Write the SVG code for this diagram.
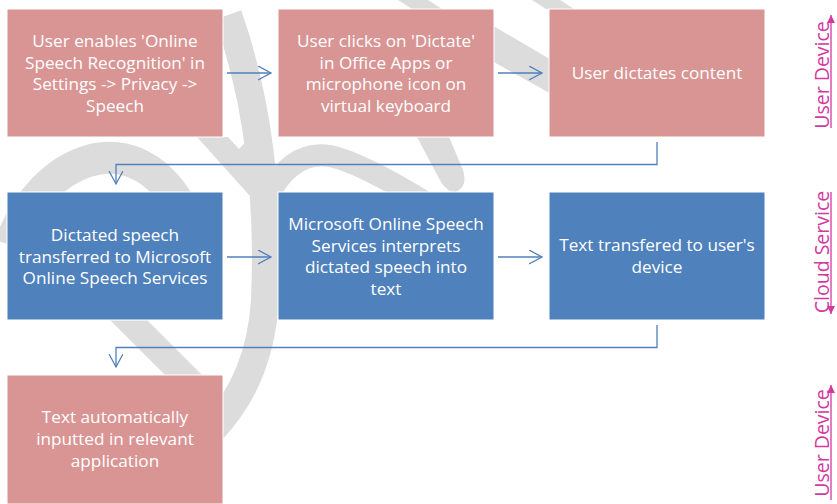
<svg xmlns="http://www.w3.org/2000/svg" width="837" height="504" viewBox="0 0 837 504">
<defs>
<style>
.wm{fill:#DCDCDC;stroke:none}
.wms{fill:none;stroke:#DCDCDC}
.pink{fill:#D99594;stroke:#FFFFFF;stroke-width:1}
.blue{fill:#4F81BD;stroke:#FFFFFF;stroke-width:1}
.t{font-family:"Open Sans","Liberation Sans",sans-serif;font-size:17.2px;fill:#FFFFFF;text-anchor:middle}
.conn{fill:none;stroke:#4F81BD;stroke-width:1.3}
.side{font-family:"Open Sans","Liberation Sans",sans-serif;font-size:19.5px;fill:#D23AA0;text-anchor:middle}
.sidel{stroke:#D23AA0;stroke-width:1.3;fill:none}
</style>
<marker id="ah" markerWidth="16" markerHeight="16" refX="13" refY="7" orient="auto" markerUnits="userSpaceOnUse">
<path d="M0,0 L13,7 L0,14" fill="none" stroke="#4F81BD" stroke-width="1.3"/>
</marker>
<marker id="sa" markerWidth="10" markerHeight="10" refX="8" refY="4" orient="auto" markerUnits="userSpaceOnUse">
<path d="M0,0 L8,4 L0,8 Z" fill="#D23AA0"/>
</marker>
</defs>
<rect width="837" height="504" fill="#FFFFFF"/>
<g id="watermark">
<path class="wms" stroke-width="32" d="M10,245 C40,160 130,120 180,205"/>
<path class="wms" stroke-width="28" d="M228,15 Q272,140 265,300 Q260,380 212,430"/>
<polygon class="wm" points="197,137 228,137 290,205 258,205"/>
<polygon class="wm" points="250,137 268,137 250,163 238,150"/>
<path class="wms" stroke-width="22" d="M268,196 Q292,150 330,156 Q360,162 430,205"/>
<path class="wm" d="M417,137 L449,137 L463,170 Q468,186 456,192 Q447,192 441,182 Z"/>
<polygon class="wm" points="110,320 147,320 203,376 166,376"/>
<polygon class="wm" points="490,24 555,62 555,96 490,60"/>
<polygon class="wm" points="398,0 428,0 442,9 412,9"/>
<polygon class="wm" points="532,0 560,0 574,9 546,9"/>
</g>
<g id="connectors">
<line class="conn" x1="227" y1="73" x2="271" y2="73" marker-end="url(#ah)"/>
<line class="conn" x1="498" y1="73" x2="542" y2="73" marker-end="url(#ah)"/>
<line class="conn" x1="227" y1="257" x2="271" y2="257" marker-end="url(#ah)"/>
<line class="conn" x1="498" y1="257" x2="542" y2="257" marker-end="url(#ah)"/>
<path class="conn" d="M657,142 V164.5 H116 V184" marker-end="url(#ah)"/>
<path class="conn" d="M657,325 V347.5 H116 V367" marker-end="url(#ah)"/>
</g>
<g id="n1">
<rect class="pink" x="7" y="9" width="216" height="128"/>
<text class="t"><tspan x="115" y="47">User enables 'Online</tspan><tspan x="115" y="68.7">Speech Recognition' in</tspan><tspan x="115" y="90.4">Settings -&gt; Privacy -&gt;</tspan><tspan x="115" y="112">Speech</tspan></text>
</g>
<g id="n2">
<rect class="pink" x="278" y="9" width="216" height="128"/>
<text class="t"><tspan x="386" y="47">User clicks on 'Dictate'</tspan><tspan x="386" y="68.7">in Office Apps or</tspan><tspan x="386" y="90.4">microphone icon on</tspan><tspan x="386" y="112">virtual keyboard</tspan></text>
</g>
<g id="n3">
<rect class="pink" x="549" y="9" width="216" height="128"/>
<text class="t"><tspan x="657" y="79">User dictates content</tspan></text>
</g>
<g id="n4">
<rect class="blue" x="7" y="192" width="216" height="128"/>
<text class="t"><tspan x="115" y="241">Dictated speech</tspan><tspan x="115" y="262.5">transferred to Microsoft</tspan><tspan x="115" y="284">Online Speech Services</tspan></text>
</g>
<g id="n5">
<rect class="blue" x="278" y="192" width="216" height="128"/>
<text class="t"><tspan x="386" y="230">Microsoft Online Speech</tspan><tspan x="386" y="251.7">Services interprets</tspan><tspan x="386" y="273.4">dictated speech into</tspan><tspan x="386" y="295">text</tspan></text>
</g>
<g id="n6">
<rect class="blue" x="549" y="192" width="216" height="128"/>
<text class="t"><tspan x="657" y="251">Text transfered to user's</tspan><tspan x="657" y="273">device</tspan></text>
</g>
<g id="n7">
<rect class="pink" x="7" y="375" width="216" height="129"/>
<text class="t"><tspan x="115" y="423">Text automatically</tspan><tspan x="115" y="445">inputted in relevant</tspan><tspan x="115" y="466.5">application</tspan></text>
</g>
<g id="lanes">
<text class="side" transform="translate(829,75) rotate(-90)">User Device</text>
<line class="sidel" x1="831" y1="128" x2="831" y2="15" marker-end="url(#sa)"/>
<text class="side" transform="translate(829,252) rotate(-90)">Cloud Service</text>
<line class="sidel" x1="831" y1="192" x2="831" y2="314" marker-end="url(#sa)"/>
<text class="side" transform="translate(829,443) rotate(-90)">User Device</text>
<line class="sidel" x1="831" y1="500" x2="831" y2="385" marker-end="url(#sa)"/>
</g>
</svg>
